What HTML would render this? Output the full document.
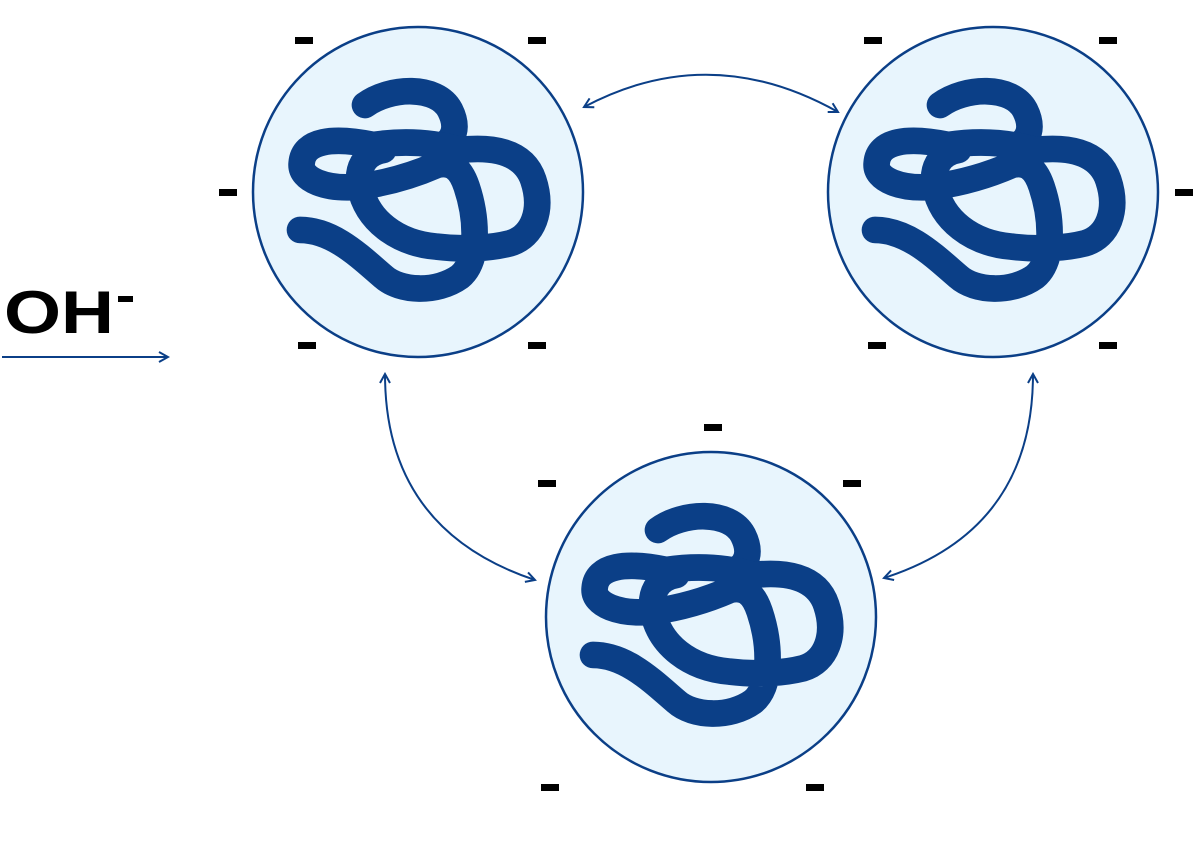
<!DOCTYPE html>
<html><head><style>html,body{margin:0;padding:0;background:#fff;width:1200px;height:842px;overflow:hidden}</style></head>
<body>
<svg width="1200" height="842" viewBox="0 0 1200 842" xmlns="http://www.w3.org/2000/svg">
<defs>
<g id="blob">
<circle cx="0" cy="0" r="165" fill="#e8f5fd" stroke="#0b3f87" stroke-width="2.5"/>
<g transform="translate(-418,-192) translate(250,30) scale(0.3333)" fill="none" stroke="#0b3f87" stroke-width="80" stroke-linecap="round" stroke-linejoin="round">
<path d="M345,225 C420,170 560,165 600,240 C625,290 615,330 570,350"/>
<path d="M150,600 C250,600 330,680 400,740 C450,785 560,790 630,740 C690,690 680,560 650,470 C630,410 600,395 560,405 C480,440 400,460 330,470 C230,480 150,450 155,400 C160,330 250,320 370,345 C470,330 560,340 630,360 C720,350 820,360 850,450 C880,540 850,620 780,640 C720,655 640,660 560,650 C440,640 350,570 330,470 C320,420 340,370 400,360"/>
</g>
</g>
<marker id="ah" viewBox="0 0 12 12" refX="10" refY="6" markerWidth="12" markerHeight="12" orient="auto-start-reverse" markerUnits="userSpaceOnUse">
<path d="M1,1 L10,6 L1,11" fill="none" stroke="#0b3f87" stroke-width="2"/>
</marker>
</defs>
<use href="#blob" x="418" y="192"/>
<use href="#blob" x="993" y="192"/>
<use href="#blob" x="711" y="617"/>
<g fill="none" stroke="#0b3f87" stroke-width="2" marker-start="url(#ah)" marker-end="url(#ah)">
<path d="M584,107 Q710,40 838,112"/>
<path d="M385,374 Q385,530 535,580"/>
<path d="M1033,374 Q1033,530 884,578"/>
</g>
<line x1="2" y1="357" x2="168" y2="357" stroke="#0b3f87" stroke-width="2" marker-end="url(#ah)"/>
<text x="4" y="333" font-family="Liberation Sans, sans-serif" font-weight="bold" font-size="60" fill="#000" textLength="110" lengthAdjust="spacingAndGlyphs">OH</text>
<rect x="118" y="296" width="15" height="6" fill="#000"/>
<g fill="#000">
<rect x="295" y="37" width="18" height="7"/><rect x="528" y="37" width="18" height="7"/>
<rect x="219" y="189" width="18" height="7"/><rect x="298" y="342" width="18" height="7"/><rect x="528" y="342" width="18" height="7"/>
<rect x="864" y="37" width="18" height="7"/><rect x="1099" y="37" width="18" height="7"/>
<rect x="1175" y="189" width="18" height="7"/><rect x="868" y="342" width="18" height="7"/><rect x="1099" y="342" width="18" height="7"/>
<rect x="704" y="424" width="18" height="7"/><rect x="538" y="480" width="18" height="7"/><rect x="843" y="480" width="18" height="7"/>
<rect x="541" y="784" width="18" height="7"/><rect x="806" y="784" width="18" height="7"/>
</g>
</svg>
</body></html>
